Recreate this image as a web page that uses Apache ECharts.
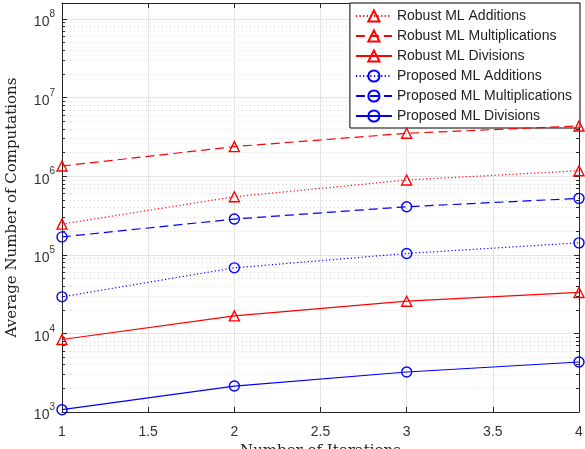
<!DOCTYPE html>
<html>
<head>
<meta charset="utf-8">
<script src="https://cdn.jsdelivr.net/npm/echarts@6/dist/echarts.min.js"></script>
<style>html,body{margin:0;padding:0;background:#fff}#c{width:585px;height:449px}</style>
</head>
<body>
<div id="c"></div>
<script>
var iterations = [1, 2, 3, 4];
var robustAdd = [2.46e5, 5.48e5, 8.95e5, 1.175e6];
var robustMul = [1.35e6, 2.38e6, 3.52e6, 4.36e6];
var robustDiv = [8.36e3, 1.67e4, 2.57e4, 3.32e4];
var propAdd = [2.92e4, 6.83e4, 1.04e5, 1.42e5];
var propMul = [1.69e5, 2.85e5, 4.09e5, 5.23e5];
var propDiv = [1.07e3, 2.14e3, 3.23e3, 4.33e3];
var seriesNames = ['Robust ML Additions', 'Robust ML Multiplications', 'Robust ML Divisions',
  'Proposed ML Additions', 'Proposed ML Multiplications', 'Proposed ML Divisions'];
var xTitle = 'Number of Iterations';
var yTitle = 'Average Number of Computations';
var yMin = 1e3, yMax = 1.6e8;

var RED = '#ff0000', BLUE = '#0000ff';
function pairs(vals) { return iterations.map(function (x, i) { return [x, vals[i]]; }); }
function mk(name, vals, color, type, symbol) {
  return {
    name: name, type: 'line', data: pairs(vals), xAxisIndex: 0, yAxisIndex: 0,
    symbol: symbol, symbolSize: 10, showAllSymbol: true, color: color,
    lineStyle: { color: color, width: 1.2, type: type === 'dotted' ? [1.2, 2.4] : (type === 'dashed' ? [9, 5] : 'solid') },
    itemStyle: { color: 'rgba(255,255,255,0)', borderColor: color, borderWidth: 1.4 },
    emphasis: { disabled: true }, animation: false, z: 5
  };
}
var chart = echarts.init(document.getElementById('c'), null, { renderer: 'canvas' });
var axisColor = '#262626';
var supFmt = function (v) {
  var e = Math.round(Math.log10(v));
  return '{b|10}{s|' + e + '}';
};
var rich = {
  b: { fontSize: 14, color: '#333', fontFamily: 'Liberation Sans', padding: [7, 0, 0, 0] },
  s: { fontSize: 10, color: '#333', fontFamily: 'Liberation Sans', padding: [0, 0, 9, 0] }
};
chart.setOption({
  animation: false,
  grid: { left: 62, right: 6, top: 3, bottom: 37, show: false, containLabel: false, outerBoundsMode: 'none' },
  legend: {
    orient: 'vertical', right: 5, top: 3, data: seriesNames,
    backgroundColor: '#fff', borderColor: '#000', borderWidth: 1,
    padding: [6, 8, 5, 5], itemGap: 6, itemWidth: 36, itemHeight: 14,
    textStyle: { fontSize: 14, fontFamily: 'Liberation Sans', color: '#222' },
    selectedMode: false
  },
  xAxis: [{
    type: 'value', min: 1, max: 4, interval: 0.5, position: 'bottom',
    name: xTitle, nameLocation: 'middle', nameGap: 30,
    nameTextStyle: { fontFamily: 'DejaVu Serif', fontSize: 15, color: '#222' },
    axisLine: { show: true, lineStyle: { color: axisColor, width: 1 } },
    axisTick: { inside: true, length: 5, lineStyle: { color: axisColor } },
    axisLabel: { fontSize: 14, color: '#333', fontFamily: 'Liberation Sans', margin: 13,
      formatter: function (v) { return String(v); } },
    splitLine: { show: true, lineStyle: { color: '#e3e3e3', width: 1 } }
  }, {
    type: 'value', min: 1, max: 4, interval: 0.5, position: 'top',
    axisLine: { show: true, onZero: false, lineStyle: { color: axisColor, width: 1 } },
    axisTick: { inside: true, length: 5, lineStyle: { color: axisColor } },
    axisLabel: { show: false }, splitLine: { show: false }
  }],
  yAxis: [{
    type: 'log', logBase: 10, min: yMin, max: yMax, position: 'left',
    name: yTitle, nameLocation: 'middle', nameGap: 42,
    nameTextStyle: { fontFamily: 'DejaVu Serif', fontSize: 15, color: '#222' },
    axisLine: { show: true, lineStyle: { color: axisColor, width: 1 } },
    axisTick: { inside: true, length: 5, lineStyle: { color: axisColor } },
    minorTick: { show: true, splitNumber: 9, length: 3, lineStyle: { color: axisColor } },
    axisLabel: { formatter: supFmt, rich: rich, margin: 7, showMaxLabel: false },
    splitLine: { show: true, lineStyle: { color: '#e3e3e3', width: 1 } },
    minorSplitLine: { show: true, lineStyle: { color: '#d8d8d8', width: 1, type: [1, 3] } }
  }, {
    type: 'log', logBase: 10, min: yMin, max: yMax, position: 'right',
    axisLine: { show: true, lineStyle: { color: axisColor, width: 1 } },
    axisTick: { inside: true, length: 5, lineStyle: { color: axisColor } },
    minorTick: { show: true, splitNumber: 9, length: 3, lineStyle: { color: axisColor } },
    axisLabel: { show: false }, splitLine: { show: false }
  }],
  series: [
    mk(seriesNames[0], robustAdd, RED, 'dotted', 'triangle'),
    mk(seriesNames[1], robustMul, RED, 'dashed', 'triangle'),
    mk(seriesNames[2], robustDiv, RED, 'solid', 'triangle'),
    mk(seriesNames[3], propAdd, BLUE, 'dotted', 'circle'),
    mk(seriesNames[4], propMul, BLUE, 'dashed', 'circle'),
    mk(seriesNames[5], propDiv, BLUE, 'solid', 'circle')
  ]
});
</script>
</body>
</html>
